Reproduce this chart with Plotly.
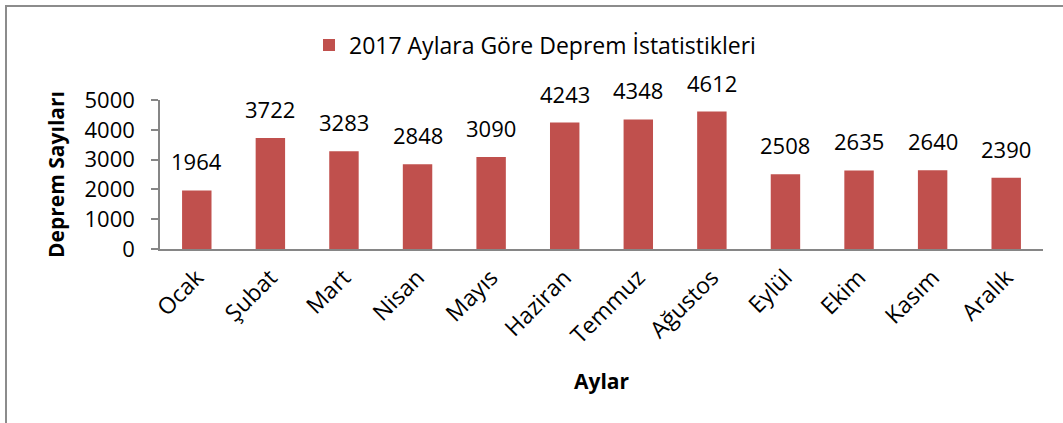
import plotly.graph_objects as go

months = ["Ocak", "Şubat", "Mart", "Nisan", "Mayıs", "Haziran", "Temmuz",
          "Ağustos", "Eylül", "Ekim", "Kasım", "Aralık"]
counts = [1964, 3722, 3283, 2848, 3090, 4243, 4348, 4612, 2508, 2635, 2640, 2390]
series_name = "2017 Aylara Göre Deprem İstatistikleri"
y_ticks = [0, 1000, 2000, 3000, 4000, 5000]

FONT = "'Open Sans', Lato, sans-serif"
BAR = "#C0504D"
AXIS = "#868686"

fig = go.Figure()
fig.add_trace(go.Bar(
    x=months, y=counts, name=series_name,
    marker=dict(color=BAR, line=dict(width=0)),
    cliponaxis=False, showlegend=True,
))

# data labels above bars
for m, v in zip(months, counts):
    fig.add_annotation(x=m, y=v, text=str(v), showarrow=False,
                       xanchor="center", yanchor="bottom", yshift=12,
                       font=dict(size=22, color="black", family=FONT))

W, H = 1063, 423
L, R, T, B = 160, 20, 100, 174
pw, ph = W - L - R, H - T - B

fig.update_layout(
    width=W, height=H,
    margin=dict(l=L, r=R, t=T, b=B),
    paper_bgcolor="white", plot_bgcolor="white",
    font=dict(family=FONT, size=22, color="black"),
    bargap=0.6,
    showlegend=True,
    legend=dict(orientation="h", x=(535 - L) / pw, xanchor="center",
                y=1 + (T - 45) / ph, yanchor="middle",
                font=dict(size=23), itemwidth=30),
    xaxis=dict(
        showline=True, linecolor=AXIS, linewidth=2,
        ticks="", tickangle=-45, tickfont=dict(size=23),
        ticklabelstandoff=4,
        title=dict(text="<b>Aylar</b>", font=dict(size=21), standoff=25),
        showgrid=False,
    ),
    yaxis=dict(
        range=[0, 5000], tickvals=y_ticks,
        showline=True, linecolor=AXIS, linewidth=1.5,
        ticks="outside", ticklen=7, tickcolor=AXIS, tickwidth=1.5,
        tickfont=dict(size=22), ticklabelstandoff=12,
        showgrid=False, zeroline=False,
        title=dict(text="<b>Deprem Sayıları</b>", font=dict(size=21), standoff=14),
    ),
    shapes=[dict(type="rect", xref="paper", yref="paper",
                 x0=(6 - L) / pw, x1=1 + (R + 50) / pw,
                 y0=-(B + 50) / ph, y1=1 + (T - 6) / ph,
                 line=dict(color="#8C8C8C", width=2), layer="below")],
)

fig.write_html("out.html", config={"displayModeBar": False},
               post_script="document.body.style.margin='0';document.body.style.overflow='hidden';")
